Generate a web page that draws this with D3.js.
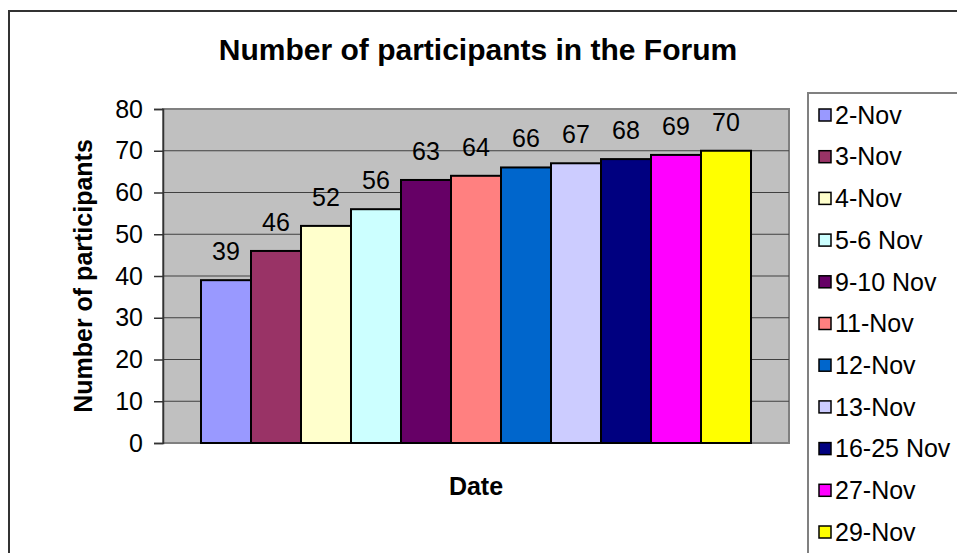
<html>
<head>
<script src="https://d3js.org/d3.v7.min.js"></script>
<style>
  body { margin: 0; background: #fff; }
  text { font-family: Arial, "Liberation Sans", sans-serif; fill: #000; }
</style>
</head>
<body>
<svg width="957" height="553"></svg>
<script>
// chart data
var categories = ["2-Nov", "3-Nov", "4-Nov", "5-6 Nov", "9-10 Nov", "11-Nov",
                  "12-Nov", "13-Nov", "16-25 Nov", "27-Nov", "29-Nov"];
var participants = [39, 46, 52, 56, 63, 64, 66, 67, 68, 69, 70];
var barColors = ["#9999FF", "#993366", "#FFFFCC", "#CCFFFF", "#660066", "#FF8080",
                 "#0066CC", "#CCCCFF", "#000080", "#FF00FF", "#FFFF00"];
var yTicks = [0, 10, 20, 30, 40, 50, 60, 70, 80];

var svg = d3.select("svg");

// plot box
var plotLeft = 163, plotRight = 789, plotTop = 109, plotBottom = 443;

// outer chart border (runs off the page on the right and bottom)
svg.append("rect")
  .attr("x", 9).attr("y", 11)
  .attr("width", 1000).attr("height", 600)
  .attr("fill", "#fff")
  .attr("stroke", "#333").attr("stroke-width", 2);

svg.append("text")
  .attr("x", 478).attr("y", 60)
  .attr("text-anchor", "middle")
  .style("font-size", "30px").style("font-weight", "bold")
  .text("Number of participants in the Forum");

var x = d3.scaleBand()
  .domain(categories)
  .range([plotLeft, plotRight])
  .paddingInner(0)
  .paddingOuter(0.76);

var y = d3.scaleLinear()
  .domain([0, 80])
  .range([plotBottom, plotTop]);

// grey plot area
svg.append("rect")
  .attr("x", plotLeft).attr("y", plotTop)
  .attr("width", plotRight - plotLeft).attr("height", plotBottom - plotTop)
  .attr("fill", "#C0C0C0")
  .attr("stroke", "#808080").attr("stroke-width", 2);

// gridlines
svg.append("g").selectAll("line")
  .data(yTicks.filter(function(d) { return d > 0 && d < 80; }))
  .enter().append("line")
  .attr("x1", plotLeft).attr("x2", plotRight)
  .attr("y1", function(d) { return y(d); })
  .attr("y2", function(d) { return y(d); })
  .attr("stroke", "#404040").attr("stroke-width", 1);

// y axis
var yAxis = svg.append("g")
  .attr("transform", "translate(" + plotLeft + ",0)")
  .call(d3.axisLeft(y).tickValues(yTicks).tickSize(9).tickPadding(11));
yAxis.selectAll("line").attr("stroke", "#333").attr("stroke-width", 1.5);
yAxis.select(".domain").attr("stroke", "#333").attr("stroke-width", 1.5);
yAxis.selectAll("text")
  .style("font-size", "25px")
  .style("font-family", "Arial, 'Liberation Sans', sans-serif")
  .attr("fill", "#000");

// bars
var rows = categories.map(function(c, i) {
  return { cat: c, value: participants[i], color: barColors[i] };
});

svg.append("g").selectAll("rect")
  .data(rows)
  .enter().append("rect")
  .attr("x", function(d) { return x(d.cat); })
  .attr("y", function(d) { return y(d.value); })
  .attr("width", x.bandwidth())
  .attr("height", function(d) { return y(0) - y(d.value); })
  .attr("fill", function(d) { return d.color; })
  .attr("stroke", "#000").attr("stroke-width", 2);

// value labels
svg.append("g").selectAll("text")
  .data(rows)
  .enter().append("text")
  .attr("x", function(d) { return x(d.cat) + x.bandwidth() / 2; })
  .attr("y", function(d) { return y(d.value) - 20; })
  .attr("text-anchor", "middle")
  .style("font-size", "25px")
  .text(function(d) { return d.value; });

// axis titles
svg.append("text")
  .attr("transform", "translate(92," + ((plotTop + plotBottom) / 2) + ") rotate(-90)")
  .attr("text-anchor", "middle")
  .style("font-size", "25px").style("font-weight", "bold")
  .text("Number of participants");

svg.append("text")
  .attr("x", (plotLeft + plotRight) / 2).attr("y", 495)
  .attr("text-anchor", "middle")
  .style("font-size", "25px").style("font-weight", "bold")
  .text("Date");

// legend
var legend = svg.append("g");
legend.append("rect")
  .attr("x", 808).attr("y", 93)
  .attr("width", 300).attr("height", 600)
  .attr("fill", "#fff")
  .attr("stroke", "#808080").attr("stroke-width", 2);

var item = legend.selectAll("g.item")
  .data(rows)
  .enter().append("g")
  .attr("class", "item")
  .attr("transform", function(d, i) { return "translate(819," + (115 + i * 41.7) + ")"; });

item.append("rect")
  .attr("x", 0).attr("y", -6)
  .attr("width", 12).attr("height", 12)
  .attr("fill", function(d) { return d.color; })
  .attr("stroke", "#000").attr("stroke-width", 1.5);

item.append("text")
  .attr("x", 16).attr("dy", "0.35em")
  .style("font-size", "25px")
  .text(function(d) { return d.cat; });
</script>
</body>
</html>
